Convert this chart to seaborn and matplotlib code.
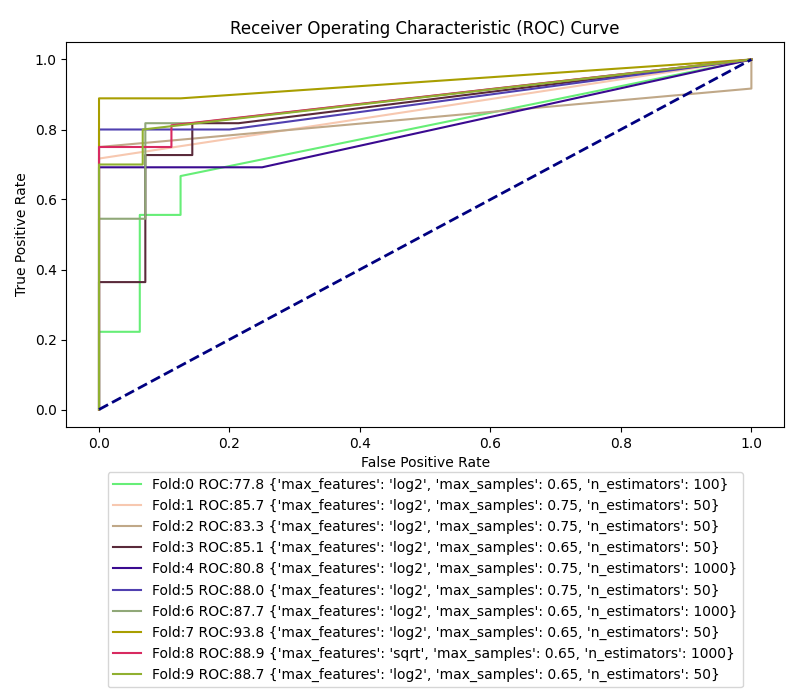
import matplotlib
matplotlib.use("Agg")
import matplotlib.pyplot as plt
import seaborn as sns
import pandas as pd

# ROC points per fold
fpr = [
    [0, 0, 0.0625, 0.0625, 0.125, 0.125, 1],
    [0, 0, 1],
    [0, 0, 1, 1],
    [0, 0, 0.071, 0.071, 0.143, 0.143, 0.214, 1],
    [0, 0, 0.25, 1],
    [0, 0, 0.2, 1],
    [0, 0, 0.071, 0.071, 0.143, 1],
    [0, 0, 0.125, 1],
    [0, 0, 0.111, 0.111, 1],
    [0, 0, 0.067, 0.067, 1],
]
tpr = [
    [0, 0.222, 0.222, 0.556, 0.556, 0.667, 1],
    [0, 0.717, 1],
    [0, 0.75, 0.917, 1],
    [0, 0.364, 0.364, 0.727, 0.727, 0.818, 0.818, 1],
    [0, 0.692, 0.692, 1],
    [0, 0.8, 0.8, 1],
    [0, 0.545, 0.545, 0.818, 0.818, 1],
    [0, 0.889, 0.889, 1],
    [0, 0.75, 0.75, 0.812, 1],
    [0, 0.7, 0.7, 0.8, 1],
]
roc = [77.8, 85.7, 83.3, 85.1, 80.8, 88.0, 87.7, 93.8, 88.9, 88.7]
max_features = ["log2"] * 8 + ["sqrt", "log2"]
max_samples = [0.65, 0.75, 0.75, 0.65, 0.75, 0.75, 0.65, 0.65, 0.65, 0.65]
n_estimators = [100, 50, 50, 50, 1000, 50, 1000, 50, 1000, 50]
colors = ["#66ee77", "#f7c8b0", "#c0a888", "#5a2a3a", "#3a0a90",
          "#5040b0", "#90a878", "#a89e00", "#d82a60", "#90b030"]

fig, ax = plt.subplots(figsize=(8, 7), dpi=100)

for i in range(len(roc)):
    df = pd.DataFrame({"fpr": fpr[i], "tpr": tpr[i]})
    params = {"max_features": max_features[i], "max_samples": max_samples[i],
              "n_estimators": n_estimators[i]}
    sns.lineplot(data=df, x="fpr", y="tpr", ax=ax, color=colors[i], lw=1.5,
                 sort=False, estimator=None,
                 label=f"Fold:{i} ROC:{roc[i]} {params}")

ax.plot([0, 1], [0, 1], color="navy", lw=2, linestyle="--")
ax.set_xlabel("False Positive Rate")
ax.set_ylabel("True Positive Rate")
ax.set_title("Receiver Operating Characteristic (ROC) Curve")
ax.legend(loc="upper center", bbox_to_anchor=(0.5, -0.1), ncol=1)

plt.subplots_adjust(left=0.083, right=0.98, top=0.94, bottom=0.39)
plt.savefig("out.png")
